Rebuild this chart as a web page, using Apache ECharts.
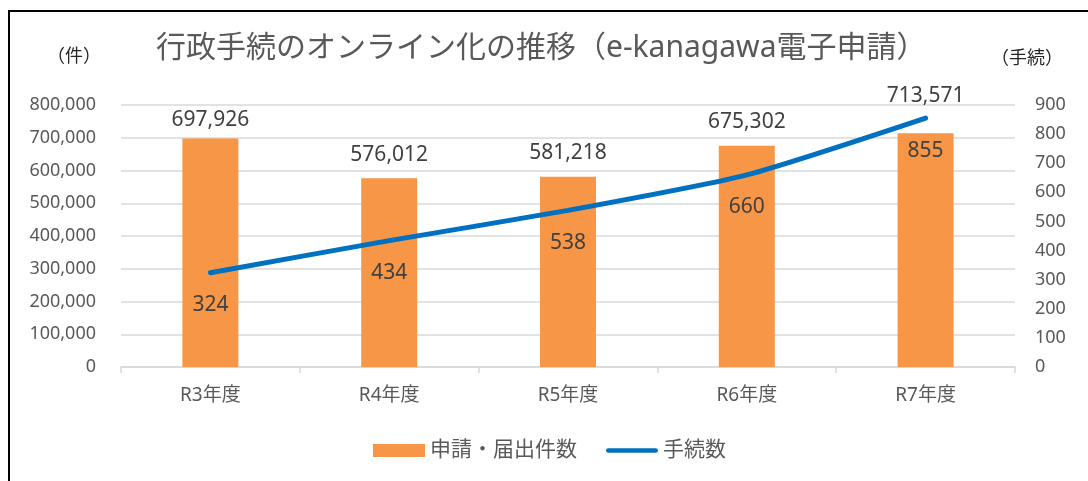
<!DOCTYPE html>
<html>
<head>
<meta charset="utf-8">
<script src="https://cdn.jsdelivr.net/npm/echarts@6/dist/echarts.min.js"></script>
<style>
  html, body { margin: 0; padding: 0; background: #fff; }
  #chart { position: absolute; left: 0; top: 0; width: 1088px; height: 481px; }
  #frame { position: absolute; left: 8px; top: 10px; width: 1100px; height: 500px;
           border-left: 2px solid #000; border-top: 2px solid #000; pointer-events: none; }
</style>
</head>
<body>
<div id="chart"></div>
<div id="frame"></div>
<script>
const categories = ["R3年度", "R4年度", "R5年度", "R6年度", "R7年度"];
const applications = [697926, 576012, 581218, 675302, 713571]; // 申請・届出件数
const procedures = [324, 434, 538, 660, 855];                  // 手続数
const leftTicks = { min: 0, max: 800000, interval: 100000 };
const rightTicks = { min: 0, max: 900, interval: 100 };

const FONT = "'Noto Sans', 'Noto Sans CJK JP', sans-serif";
const textColor = "#595959";
const labelColor = "#404040";
const gridColor = "#d9d9d9";

// labels in the original were nudged by hand: first one sits lower, last one higher
const barLabelGap = (i) => (i === 0 ? 8 : i === applications.length - 1 ? 27 : 13);

const chart = echarts.init(document.getElementById("chart"));

const options = {
  animation: false,
  textStyle: { fontFamily: FONT },
  title: [
    {
      text: "行政手続のオンライン化の推移（e-kanagawa電子申請）",
      left: 151,
      top: 28,
      textStyle: { fontSize: 30, fontWeight: "normal", color: textColor, fontFamily: FONT },
    },
    {
      text: "（件）",
      left: 42,
      top: 43,
      textStyle: { fontSize: 18, fontWeight: "normal", color: "#262626", fontFamily: FONT },
    },
    {
      text: "（手続）",
      left: 986,
      top: 45,
      textStyle: { fontSize: 18, fontWeight: "normal", color: "#262626", fontFamily: FONT },
    },
  ],
  grid: { left: 121, right: 73, top: 105, bottom: 114 },
  legend: {
    left: 368,
    top: 435,
    itemGap: 29,
    itemWidth: 52,
    itemHeight: 13,
    textStyle: { fontSize: 21, color: textColor, fontFamily: FONT },
    data: [
      { name: "申請・届出件数", icon: "rect" },
      // thin rounded bar for the line, padded with move-to points to keep its size
      { name: "手続数", icon: "path://M0,0 M56,13 M2,4 L54,4 A2.5,2.5 0 0 1 54,9 L2,9 A2.5,2.5 0 0 1 2,4 Z" },
    ],
  },
  xAxis: {
    type: "category",
    data: categories,
    axisLine: { lineStyle: { color: gridColor, width: 1.5 } },
    axisTick: { show: true, length: 6, lineStyle: { color: gridColor, width: 1.5 } },
    axisLabel: { color: textColor, fontSize: 19, margin: 19, fontFamily: FONT },
  },
  yAxis: [
    {
      type: "value",
      ...leftTicks,
      axisLine: { show: false },
      axisTick: { show: false },
      splitLine: { lineStyle: { color: gridColor, width: 1.5 } },
      axisLabel: {
        color: textColor,
        fontSize: 18,
        margin: 25,
        fontFamily: FONT,
        formatter: (v) => v.toLocaleString("en-US"),
      },
    },
    {
      type: "value",
      ...rightTicks,
      axisLine: { show: false },
      axisTick: { show: false },
      splitLine: { show: false },
      axisLabel: { color: textColor, fontSize: 18, margin: 20, fontFamily: FONT },
    },
  ],
  series: [
    {
      name: "申請・届出件数",
      type: "bar",
      barWidth: 56,
      data: applications.map((v, i) => ({ value: v, label: { distance: barLabelGap(i) } })),
      itemStyle: { color: "#F79646" },
      label: {
        show: true,
        position: "top",
        fontSize: 21,
        color: labelColor,
        fontFamily: FONT,
        formatter: (p) => p.value.toLocaleString("en-US"),
      },
    },
    {
      name: "手続数",
      type: "line",
      yAxisIndex: 1,
      data: procedures,
      smooth: 0.2,
      symbol: "circle",
      symbolSize: 0.1,
      showSymbol: true,
      lineStyle: { color: "#0070C0", width: 5, cap: "round" },
      itemStyle: { color: "#0070C0" },
      label: {
        show: true,
        position: "bottom",
        distance: 22,
        fontSize: 21,
        color: labelColor,
        fontFamily: FONT,
      },
      z: 3,
    },
  ],
};

chart.setOption(options);
</script>
</body>
</html>
